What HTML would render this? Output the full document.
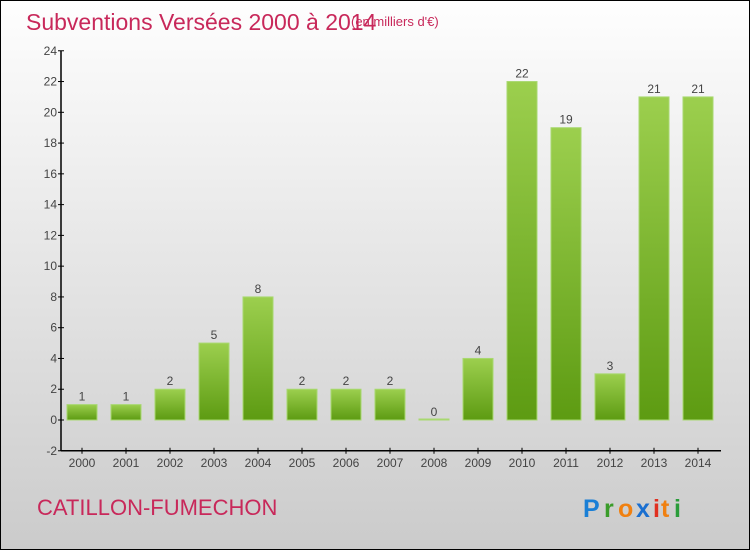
<!DOCTYPE html>
<html><head><meta charset="utf-8"><style>
body{margin:0}
#c{width:748px;height:548px;border:1px solid #000;background:linear-gradient(#fefefe,#cbcbcb);position:relative;font-family:"Liberation Sans",sans-serif;overflow:hidden}
</style></head><body>
<div id="c">
<svg width="748" height="548" id="svg">
<defs><linearGradient id="g" x1="0" y1="0" x2="0" y2="1"><stop offset="0" stop-color="#9ccf4e"/><stop offset="1" stop-color="#5d9b12"/></linearGradient></defs>
<text x="25" y="29" font-size="23" fill="#c8285a">Subventions Versées 2000 à 2014</text>
<text x="350" y="25" font-size="13" fill="#c8285a">(en milliers d'€)</text>
<text x="36" y="514" font-size="22" fill="#c8285a">CATILLON-FUMECHON</text>
<g font-size="25" font-weight="bold">
<text x="582" y="516" fill="#1a7fd6">P</text><text x="603" y="516" fill="#3a9c2a">r</text><text x="617" y="516" fill="#f08010">o</text><text x="635" y="516" fill="#1a6fd0">x</text><text x="652" y="516" fill="#e03020">i</text><text x="660" y="516" fill="#f08010">t</text><text x="673" y="516" fill="#2a9c3a">i</text>
</g>
<g id="plot"></g>
</svg></div>
<script>
const years=["2000","2001","2002","2003","2004","2005","2006","2007","2008","2009","2010","2011","2012","2013","2014"];
const values=[1,1,2,5,8,2,2,2,0,4,22,19,2,21,21];
values[12]=3;
const yTicks=[-2,0,2,4,6,8,10,12,14,16,18,20,22,24];
const NS="http://www.w3.org/2000/svg";
const p=document.getElementById("plot");
const y=v=>419-(v)*(400/26);
const x=i=>81+i*44;
function mk(t,a){const e=document.createElementNS(NS,t);for(const k in a)e.setAttribute(k,a[k]);p.appendChild(e);return e;}
let ax=mk("line",{x1:60,y1:y(24),x2:60,y2:y(-2),stroke:"#000","stroke-width":1.5});


let xa=mk("line",{x1:60,y1:y(-2),x2:720,y2:y(-2),stroke:"#000","stroke-width":1.5});


yTicks.forEach(v=>{
 let t=mk("line",{x1:57,x2:63,y1:y(v),y2:y(v),stroke:"#000"});
 
 
 let l=mk("text",{x:56,y:y(v)+4,"text-anchor":"end","font-size":12,fill:"#444"});l.textContent=v;
 
 
});
years.forEach((yr,i)=>{
 let v=values[i];
 let t=mk("line",{x1:x(i),x2:x(i),y1:y(-2)-3,y2:y(-2)+3,stroke:"#000"});
 
 
 let l=mk("text",{x:x(i),y:y(-2)+16,"text-anchor":"middle","font-size":12,fill:"#444"});l.textContent=yr;
 
 
 let h=Math.max(y(0)-y(v),1);
 let b=mk("rect",{x:x(i)-15,y:y(0)-h,width:30,height:h,fill:v>0?"url(#g)":"#9ccf4e",stroke:"#a8d870","stroke-width":1});
 
 
 let vl=mk("text",{x:x(i),y:y(v)-4,"text-anchor":"middle","font-size":12,fill:"#444"});vl.textContent=v;
 
 
});
</script>
</body></html>
